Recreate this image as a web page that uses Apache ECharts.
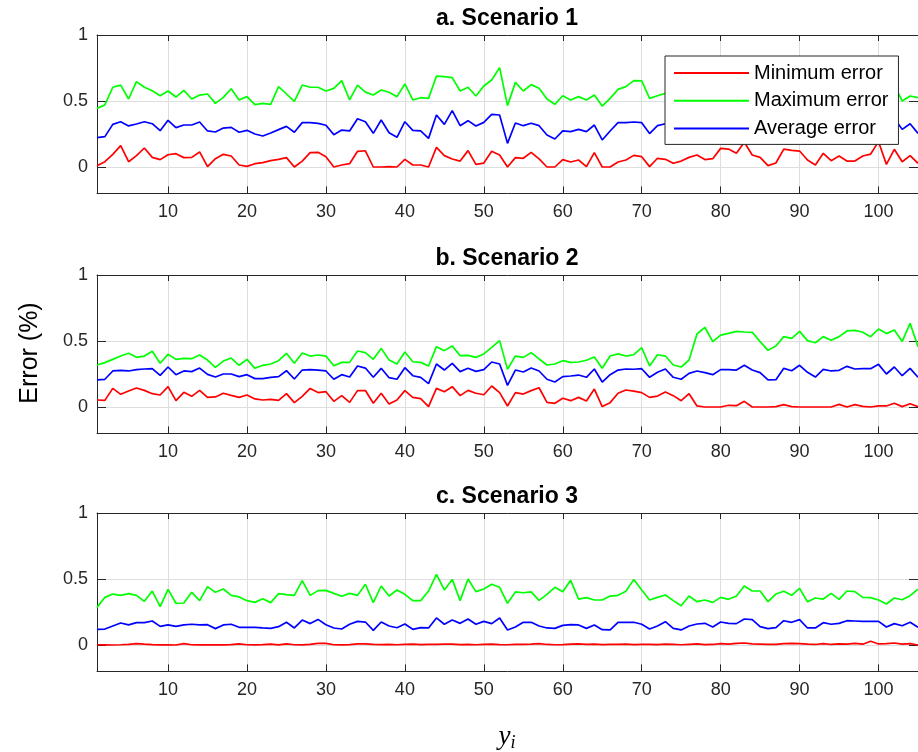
<!DOCTYPE html>
<html>
<head>
<meta charset="utf-8">
<script src="https://cdn.jsdelivr.net/npm/echarts@6/dist/echarts.min.js"></script>
<style>
  html, body { margin: 0; padding: 0; background: #fff; }
  #chart { width: 918px; height: 752px; }
</style>
</head>
<body>
<div id="chart"></div>
<script>
// Sample index (y_i) along the x axis
const SAMPLE_COUNT = 105;
const X_TICKS = [10, 20, 30, 40, 50, 60, 70, 80, 90, 100];
const Y_TICKS = [0, 0.5, 1];

const SERIES_NAMES = ['Minimum error', 'Maximum error', 'Average error'];
const SERIES_COLORS = ['#ff0000', '#00ff00', '#0000ff'];
const PANEL_TITLES = ['a. Scenario 1', 'b. Scenario 2', 'c. Scenario 3'];

// Scenario 1
const s1Min = [0.01, 0.04, 0.096, 0.162, 0.04, 0.086, 0.144, 0.073, 0.056, 0.093, 0.101, 0.071, 0.073, 0.114, 0.003, 0.063, 0.096, 0.083, 0.015, 0.005, 0.025, 0.033, 0.048, 0.058, 0.071, 0, 0.045, 0.109, 0.111, 0.078, 0, 0.015, 0.025, 0.119, 0.123,
  0, 0, 0.003, 0, 0.058, 0.015, 0.015, 0, 0.149, 0.086, 0.061, 0.045, 0.124, 0.02, 0.03, 0.119, 0.091, 0, 0.071, 0.066, 0.111, 0.061, 0, 0, 0.056, 0.038, 0.053, 0.003, 0.109, 0, 0, 0.038, 0.053, 0.088,
  0.078, 0.003, 0.066, 0.058, 0.028, 0.045, 0.073, 0.091, 0.056, 0.063, 0.141, 0.136, 0.104, 0.187, 0.091, 0.073, 0.01, 0.03, 0.136, 0.126, 0.121, 0.053, 0.015, 0.104, 0.048, 0.083, 0.045, 0.045, 0.083, 0.098, 0.192, 0.02, 0.134, 0.04, 0.086, 0.028];
const s1Max = [0.444, 0.47, 0.604, 0.62, 0.515, 0.646, 0.604, 0.578, 0.54, 0.576, 0.53, 0.58, 0.515, 0.545, 0.553, 0.482, 0.528, 0.593, 0.508, 0.533, 0.472, 0.482, 0.475, 0.609, 0.553, 0.497, 0.621, 0.604, 0.604, 0.576, 0.596, 0.654, 0.508, 0.621, 0.567,
  0.545, 0.583, 0.566, 0.533, 0.629, 0.508, 0.525, 0.52, 0.689, 0.684, 0.677, 0.576, 0.604, 0.538, 0.614, 0.659, 0.753, 0.465, 0.641, 0.576, 0.624, 0.596, 0.515, 0.475, 0.54, 0.508, 0.533, 0.508, 0.545, 0.462, 0.52, 0.588, 0.609, 0.654,
  0.652, 0.52, 0.54, 0.558,
  0.58, 0.55, 0.6, 0.57, 0.52, 0.59, 0.56, 0.62, 0.55, 0.58, 0.6, 0.53, 0.57, 0.61, 0.55, 0.58, 0.52, 0.6, 0.57, 0.63, 0.56, 0.59, 0.54, 0.6, 0.62, 0.57, 0.61, 0.66,
  0.62, 0.5, 0.538, 0.525];
const s1Avg = [0.222, 0.23, 0.323, 0.343, 0.311, 0.326, 0.343, 0.328, 0.275, 0.354, 0.298, 0.318, 0.318, 0.341, 0.273, 0.265, 0.295, 0.3, 0.263, 0.278, 0.25, 0.235, 0.258, 0.283, 0.308, 0.263, 0.336, 0.336, 0.331, 0.316, 0.245, 0.28, 0.273, 0.366, 0.343,
  0.255, 0.356, 0.26, 0.225, 0.343, 0.278, 0.273, 0.217, 0.394, 0.323, 0.427, 0.313, 0.351, 0.311, 0.338, 0.399, 0.394, 0.179, 0.333, 0.313, 0.331, 0.313, 0.242, 0.212, 0.273, 0.268, 0.285, 0.268, 0.318, 0.205, 0.273, 0.336, 0.336, 0.341,
  0.336, 0.253, 0.313, 0.328,
  0.3, 0.27, 0.33, 0.31, 0.26, 0.32, 0.29, 0.35, 0.3, 0.33, 0.36, 0.28, 0.31, 0.34, 0.29, 0.33, 0.27, 0.35, 0.32, 0.37, 0.3, 0.34, 0.28, 0.33, 0.36, 0.31, 0.35, 0.39,
  0.37, 0.285, 0.328, 0.255];

// Scenario 2
const s2Min = [0.053, 0.05, 0.141, 0.096, 0.121, 0.144, 0.126, 0.101, 0.091, 0.154, 0.048, 0.111, 0.081, 0.126, 0.073, 0.076, 0.104, 0.088, 0.073, 0.091, 0.061, 0.053, 0.058, 0.05, 0.101, 0.033, 0.081, 0.141, 0.109, 0.116, 0.043, 0.086, 0.035, 0.124, 0.125,
  0.028, 0.104, 0.023, 0.053, 0.124, 0.073, 0.063, 0.003, 0.141, 0.116, 0.154, 0.086, 0.126, 0.104, 0.093, 0.159, 0.109, 0.008, 0.109, 0.098, 0.124, 0.146, 0.035, 0.028, 0.066, 0.048, 0.073, 0.045, 0.136, 0.003, 0.033, 0.104, 0.129, 0.12,
  0.109, 0.073, 0.083, 0.114, 0.086, 0.048, 0.101, 0.008, 0, 0, 0, 0.013, 0.01, 0.043, 0, 0, 0, 0.003, 0.018, 0.003, 0, 0, 0, 0, 0, 0.02, 0, 0.018, 0.005, 0, 0.008, 0.008, 0.028, 0.003, 0.025, 0.003];
const s2Max = [0.318, 0.336, 0.361, 0.386, 0.407, 0.376, 0.386, 0.422, 0.331, 0.399, 0.361, 0.369, 0.366, 0.394, 0.356, 0.3, 0.348, 0.371, 0.316, 0.361, 0.293, 0.316, 0.326, 0.351, 0.407, 0.331, 0.409, 0.386, 0.394, 0.386, 0.313, 0.338, 0.338, 0.424, 0.412,
  0.361, 0.444, 0.356, 0.326, 0.417, 0.343, 0.338, 0.311, 0.457, 0.427, 0.462, 0.389, 0.391, 0.376, 0.402, 0.452, 0.503, 0.285, 0.386, 0.376, 0.412, 0.364, 0.318, 0.326, 0.351, 0.338, 0.341, 0.354, 0.379, 0.293, 0.386, 0.402, 0.386, 0.396,
  0.449, 0.311, 0.396, 0.386, 0.318, 0.303, 0.356, 0.553, 0.604, 0.495, 0.545, 0.558, 0.573, 0.568, 0.566, 0.495, 0.429, 0.462, 0.533, 0.52, 0.573, 0.503, 0.487, 0.533, 0.505, 0.533, 0.576, 0.581, 0.566, 0.533, 0.591, 0.556, 0.583, 0.497, 0.634, 0.457];
const s2Avg = [0.205, 0.21, 0.273, 0.278, 0.273, 0.283, 0.288, 0.29, 0.24, 0.303, 0.245, 0.273, 0.268, 0.295, 0.247, 0.227, 0.25, 0.25, 0.23, 0.245, 0.215, 0.215, 0.225, 0.23, 0.275, 0.212, 0.28, 0.283, 0.28, 0.273, 0.21, 0.245, 0.227, 0.311, 0.295,
  0.225, 0.293, 0.222, 0.21, 0.298, 0.237, 0.225, 0.177, 0.326, 0.28, 0.331, 0.268, 0.293, 0.27, 0.283, 0.341, 0.326, 0.164, 0.28, 0.265, 0.295, 0.273, 0.21, 0.189, 0.23, 0.235, 0.242, 0.225, 0.288, 0.189, 0.245, 0.28, 0.288, 0.286,
  0.29, 0.225, 0.263, 0.288, 0.225, 0.21, 0.255, 0.273, 0.26, 0.245, 0.283, 0.283, 0.28, 0.316, 0.28, 0.26, 0.205, 0.207, 0.293, 0.275, 0.316, 0.263, 0.227, 0.285, 0.273, 0.278, 0.308, 0.288, 0.29, 0.29, 0.323, 0.25, 0.303, 0.237, 0.293, 0.225];

// Scenario 3
const s3Min = [0.002, 0.001, 0, 0.002, 0.005, 0.01, 0.006, 0.003, 0.001, 0.002, 0, 0.01, 0.002, 0.001, 0.002, 0.001, 0.001, 0.003, 0.008, 0.002, 0.001, 0.003, 0.006, 0.001, 0.008, 0.002, 0.001, 0.005, 0.012, 0.012, 0.002, 0.001, 0.003, 0.008, 0.008,
  0.004, 0.003, 0.005, 0.002, 0.004, 0.006, 0.003, 0.005, 0.004, 0.006, 0.007, 0.003, 0.004, 0.002, 0.005, 0.007, 0.003, 0.002, 0.004, 0.005, 0.006, 0.011, 0.004, 0.002, 0.003, 0.006, 0.009, 0.005, 0.007, 0.003, 0.005, 0.004, 0.006, 0.003,
  0.004, 0.005, 0.003, 0.006, 0.004, 0.002, 0.005, 0.008, 0.003, 0.004, 0.01, 0.006, 0.012, 0.015, 0.008, 0.006, 0.004, 0.005, 0.01, 0.012, 0.01, 0.006, 0.004, 0.01, 0.004, 0.008, 0.006, 0.013, 0.006, 0.028, 0.008, 0.01, 0.015, 0.006, 0.01, 0];
const s3Max = [0.285, 0.361, 0.386, 0.376, 0.389, 0.376, 0.331, 0.409, 0.29, 0.422, 0.316, 0.318, 0.399, 0.336, 0.442, 0.399, 0.424, 0.376, 0.364, 0.336, 0.323, 0.351, 0.321, 0.389, 0.381, 0.376, 0.487, 0.376, 0.412, 0.414, 0.391, 0.369, 0.391, 0.376, 0.46,
  0.321, 0.447, 0.371, 0.417, 0.384, 0.336, 0.336, 0.409, 0.535, 0.417, 0.497, 0.336, 0.5, 0.404, 0.424, 0.46, 0.437, 0.316, 0.402, 0.396, 0.402, 0.338, 0.384, 0.437, 0.404, 0.49, 0.348, 0.359, 0.341, 0.341, 0.371, 0.376, 0.407, 0.497,
  0.417, 0.341, 0.361, 0.379, 0.336, 0.298, 0.371, 0.328, 0.341, 0.323, 0.361, 0.346, 0.371, 0.447, 0.409, 0.409, 0.328, 0.386, 0.407, 0.376, 0.429, 0.328, 0.356, 0.348, 0.391, 0.346, 0.409, 0.404, 0.361, 0.359, 0.341, 0.311, 0.356, 0.343, 0.374, 0.424];
const s3Avg = [0.119, 0.121, 0.144, 0.167, 0.152, 0.169, 0.169, 0.182, 0.141, 0.152, 0.141, 0.152, 0.157, 0.152, 0.154, 0.124, 0.152, 0.157, 0.134, 0.134, 0.134, 0.129, 0.126, 0.139, 0.172, 0.129, 0.189, 0.162, 0.194, 0.154, 0.129, 0.121, 0.157, 0.179, 0.174,
  0.111, 0.174, 0.144, 0.131, 0.159, 0.119, 0.131, 0.129, 0.205, 0.157, 0.189, 0.164, 0.197, 0.157, 0.179, 0.162, 0.205, 0.114, 0.136, 0.172, 0.172, 0.144, 0.129, 0.126, 0.149, 0.154, 0.152, 0.126, 0.152, 0.116, 0.114, 0.172, 0.172, 0.172,
  0.157, 0.121, 0.144, 0.177, 0.126, 0.114, 0.144, 0.159, 0.164, 0.136, 0.174, 0.164, 0.162, 0.197, 0.192, 0.139, 0.124, 0.131, 0.184, 0.172, 0.192, 0.129, 0.129, 0.169, 0.157, 0.164, 0.184, 0.182, 0.179, 0.179, 0.179, 0.136, 0.162, 0.146, 0.172, 0.134];

const PANELS = [
  [s1Min, s1Max, s1Avg],
  [s2Min, s2Max, s2Avg],
  [s3Min, s3Max, s3Avg]
];

// ---- layout / style ----
const FONT = 'Liberation Sans, Arial, Helvetica, sans-serif';
const AXIS_COLOR = '#262626';
const GRID_COLOR = '#dedede';
const PLOT_LEFT = 97;
const PLOT_WIDTH = 822;
const PLOT_HEIGHT = 158.4;
const PLOT_TOPS = [35, 275, 513];

const grids = PLOT_TOPS.map(t => ({ left: PLOT_LEFT, top: t, width: PLOT_WIDTH, height: PLOT_HEIGHT, show: false }));

const xAxes = [];
const yAxes = [];
PLOT_TOPS.forEach((t, p) => {
  xAxes.push({
    type: 'value', gridIndex: p, position: 'bottom', min: 1, max: SAMPLE_COUNT,
    axisLine: { show: true, onZero: false, lineStyle: { color: AXIS_COLOR, width: 1 } },
    axisTick: { show: true, inside: true, length: 7, customValues: X_TICKS, lineStyle: { color: AXIS_COLOR } },
    axisLabel: { show: true, customValues: X_TICKS, fontSize: 18, fontFamily: FONT, color: AXIS_COLOR, margin: 10 },
    splitLine: { show: true, lineStyle: { color: GRID_COLOR, width: 1 } }
  });
  xAxes.push({
    type: 'value', gridIndex: p, position: 'top', min: 1, max: SAMPLE_COUNT,
    axisLine: { show: true, onZero: false, lineStyle: { color: AXIS_COLOR, width: 1 } },
    axisTick: { show: true, inside: true, length: 6, customValues: X_TICKS, lineStyle: { color: AXIS_COLOR } },
    axisLabel: { show: false },
    splitLine: { show: false }
  });
  yAxes.push({
    type: 'value', gridIndex: p, position: 'left', min: -0.2, max: 1,
    axisLine: { show: true, onZero: false, lineStyle: { color: AXIS_COLOR, width: 1 } },
    axisTick: { show: true, inside: true, length: 9, customValues: Y_TICKS, lineStyle: { color: AXIS_COLOR } },
    axisLabel: { show: true, customValues: Y_TICKS, fontSize: 18, fontFamily: FONT, color: AXIS_COLOR, margin: 9,
      formatter: v => String(v) },
    splitLine: { show: true, lineStyle: { color: GRID_COLOR, width: 1 } }
  });
  yAxes.push({
    type: 'value', gridIndex: p, position: 'right', min: -0.2, max: 1,
    axisLine: { show: true, onZero: false, lineStyle: { color: AXIS_COLOR, width: 1 } },
    axisTick: { show: true, inside: true, length: 9, customValues: Y_TICKS, lineStyle: { color: AXIS_COLOR } },
    axisLabel: { show: false },
    splitLine: { show: false }
  });
});

const series = [];
PANELS.forEach((panel, p) => {
  panel.forEach((values, k) => {
    series.push({
      name: SERIES_NAMES[k],
      type: 'line',
      xAxisIndex: p * 2,
      yAxisIndex: p * 2,
      data: values.map((v, i) => [i + 1, v]),
      symbol: 'none',
      showSymbol: false,
      color: SERIES_COLORS[k],
      lineStyle: { color: SERIES_COLORS[k], width: 1.7 },
      z: 2 + k
    });
  });
});

const titles = PANEL_TITLES.map((txt, p) => ({
  text: txt,
  left: PLOT_LEFT + PLOT_WIDTH / 2 - 1,
  top: PLOT_TOPS[p] - 27.5,
  textAlign: 'center',
  padding: 0,
  textStyle: { fontSize: 23, fontWeight: 'bold', fontFamily: FONT, color: '#000' }
}));

const chart = echarts.init(document.getElementById('chart'), null, { renderer: 'canvas' });
chart.setOption({
  backgroundColor: '#fff',
  animation: false,
  title: titles,
  grid: grids,
  xAxis: xAxes,
  yAxis: yAxes,
  legend: {
    data: SERIES_NAMES,
    orient: 'vertical',
    left: 665,
    top: 56,
    z: 20,
    backgroundColor: '#fff',
    borderColor: AXIS_COLOR,
    borderWidth: 1,
    borderRadius: 0,
    padding: [7, 10, 6, 8],
    itemWidth: 75,
    itemHeight: 14,
    itemGap: 7.7,
    selectedMode: false,
    itemStyle: { opacity: 0, borderWidth: 0 },
    lineStyle: { width: 2 },
    textStyle: { fontSize: 20, fontFamily: FONT, color: '#000' }
  },
  graphic: [
    {
      type: 'text', x: 30, y: 353, rotation: Math.PI / 2,
      style: { text: 'Error (%)', fontSize: 25, fontFamily: FONT, fill: '#000', textAlign: 'center', textVerticalAlign: 'middle' }
    },
    {
      type: 'text', x: 507, y: 737,
      style: {
        text: '{y|y}{i|i}',
        textAlign: 'center', textVerticalAlign: 'middle',
        rich: {
          y: { fontSize: 27, fontStyle: 'italic', fontFamily: 'Liberation Serif, DejaVu Serif, serif', fill: '#000', lineHeight: 30, verticalAlign: 'middle' },
          i: { fontSize: 18, fontStyle: 'italic', fontFamily: 'Liberation Serif, DejaVu Serif, serif', fill: '#000', lineHeight: 30, verticalAlign: 'bottom' }
        }
      }
    }
  ],
  series: series
});
</script>
</body>
</html>
